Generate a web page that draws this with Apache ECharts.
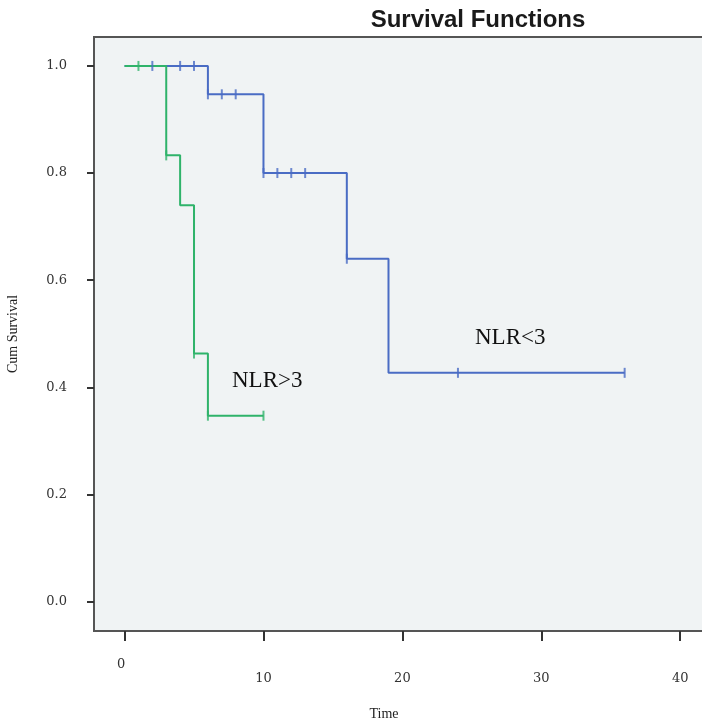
<!DOCTYPE html>
<html>
<head>
<meta charset="utf-8">
<script src="https://cdn.jsdelivr.net/npm/echarts@6/dist/echarts.min.js"></script>
<style>
html,body{margin:0;padding:0;background:#fff;}
#chart{width:702px;height:722px;}
</style>
</head>
<body>
<div id="chart"></div>
<script>
// Kaplan-Meier step data (time, cumulative survival)
const lowTimes   = [0, 6, 10, 16, 19, 36];
const lowSurv    = [1.0, 0.947, 0.80, 0.64, 0.427, 0.427];
const lowCensT   = [2, 4, 5, 6, 7, 8, 10, 11, 12, 13, 16, 24, 36];
const lowCensS   = [1.0, 1.0, 1.0, 0.947, 0.947, 0.947, 0.80, 0.80, 0.80, 0.80, 0.64, 0.427, 0.427];

const highTimes  = [0, 3, 4, 5, 6, 10];
const highSurv   = [1.0, 0.833, 0.74, 0.463, 0.347, 0.347];
const highCensT  = [1, 3, 5, 6, 10];
const highCensS  = [1.0, 0.833, 0.463, 0.347, 0.347];

const xTicks = [0, 10, 20, 30, 40];
const yTicks = [0, 0.2, 0.4, 0.6, 0.8, 1.0];

const titleText = 'Survival Functions';
const xName = 'Time';
const yName = 'Cum Survival';
const lowLabel = 'NLR<3';
const highLabel = 'NLR>3';

const BLUE = '#4a6cc4';
const GREEN = '#2fb36a';

function pairs(xs, ys){ return xs.map((x,i)=>[x, ys[i]]); }

const chart = echarts.init(document.getElementById('chart'), null, {renderer:'canvas'});
const serif = '"Liberation Serif", "DejaVu Serif", serif';
const tickFont = '"DejaVu Serif", serif';

chart.setOption({
  animation: false,
  backgroundColor: '#ffffff',
  title: {
    text: titleText,
    left: 473, top: 3,
    textAlign: 'center',
    textStyle: {fontFamily: '"Liberation Sans", Arial, sans-serif', fontWeight: 'bold', fontSize: 24, color: '#1a1a1a'}
  },
  grid: {
    left: 94, top: 37, right: -6, bottom: 91,
    containLabel: false, outerBoundsMode: 'none',
    show: true, backgroundColor: '#f0f3f4', borderColor: '#555', borderWidth: 2
  },
  xAxis: {
    type: 'value', min: -2.2, max: 42,
    name: xName, nameLocation: 'middle', nameGap: 76,
    nameTextStyle: {fontFamily: serif, fontSize: 14, color: '#222', padding:[0,34,0,0]},
    axisLine: {show: true, onZero: false, lineStyle: {color: '#555', width: 2}},
    axisTick: {show: true, length: 10, lineStyle: {color: '#333', width: 2}, customValues: xTicks},
    axisLabel: {
      customValues: xTicks, margin: 27, color: '#333', fontFamily: tickFont, fontSize: 13,
      formatter: function(v){ return v === 0 ? '{z|0}' : '{n|' + v + '}'; },
      rich: {
        z: {fontFamily: tickFont, fontSize: 13, color: '#333', padding: [0,7,0,0]},
        n: {fontFamily: tickFont, fontSize: 13, color: '#333', padding: [14,0,0,0]}
      }
    },
    splitLine: {show: false}
  },
  yAxis: {
    type: 'value', min: -0.055, max: 1.054,
    name: yName, nameLocation: 'middle', nameGap: 74, nameRotate: 90,
    nameTextStyle: {fontFamily: serif, fontSize: 14, color: '#222'},
    axisLine: {show: true, onZero: false, lineStyle: {color: '#555', width: 2}},
    axisTick: {show: true, length: 7, lineStyle: {color: '#333', width: 2}, customValues: yTicks},
    axisLabel: {
      customValues: yTicks, margin: 27, color: '#333', fontFamily: tickFont, fontSize: 13,
      formatter: function(v){ return v.toFixed(1); }
    },
    splitLine: {show: false}
  },
  series: [
    {
      type: 'line', step: 'end', data: pairs(lowTimes, lowSurv), showSymbol: false,
      lineStyle: {color: BLUE, width: 2}, z: 3
    },
    {
      type: 'line', step: 'end', data: pairs(highTimes, highSurv), showSymbol: false,
      lineStyle: {color: GREEN, width: 2}, z: 4
    },
    {
      type: 'scatter', data: pairs(lowCensT, lowCensS), symbol: 'rect', symbolSize: [2, 10],
      itemStyle: {color: BLUE}, z: 5
    },
    {
      type: 'scatter', data: pairs(highCensT, highCensS), symbol: 'rect', symbolSize: [2, 10],
      itemStyle: {color: GREEN}, z: 6
    }
  ],
  graphic: [
    {type: 'text', left: 232, top: 369, style: {text: highLabel, font: '23px ' + serif, fill: '#111'}},
    {type: 'text', left: 475, top: 326, style: {text: lowLabel, font: '23px ' + serif, fill: '#111'}}
  ]
});
</script>
</body>
</html>
